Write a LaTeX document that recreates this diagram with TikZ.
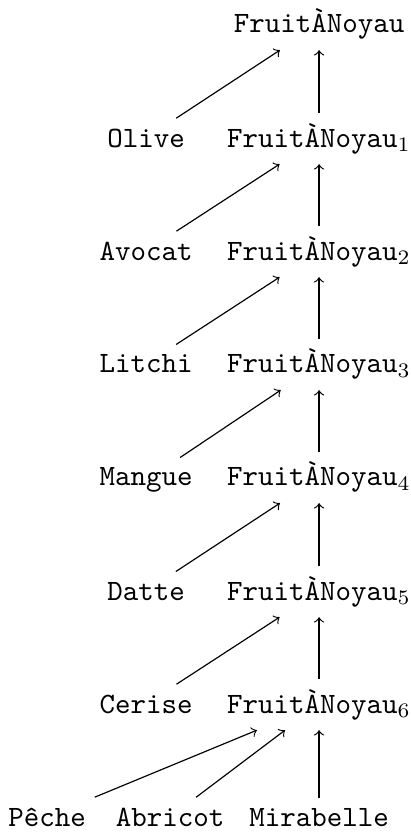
\documentclass[tikz,border=0pt]{standalone}
\usepackage{amsmath}
\usepackage{tikz}
\tikzset{fruit/.style={font=\ttfamily,anchor=base}}

\begin{document}
\begin{tikzpicture}[>=to]
    \useasboundingbox (0,0) rectangle (4.883,9.909);

    \node[fruit] (f0)at (3.80,9.516) {FruitÀNoyau};
    \node[fruit] (olive)at (1.74,8.158) {Olive};
    \node[fruit] (f1)at (3.80,8.158) {FruitÀNoyau$_1$};
    \node[fruit] (avocat)at (1.74,6.812) {Avocat};
    \node[fruit] (f2)at (3.80,6.812) {FruitÀNoyau$_2$};
    \node[fruit] (litchi)at (1.74,5.467) {Litchi};
    \node[fruit] (f3)at (3.80,5.467) {FruitÀNoyau$_3$};
    \node[fruit] (mangue)at (1.74,4.121) {Mangue};
    \node[fruit] (f4)at (3.80,4.121) {FruitÀNoyau$_4$};
    \node[fruit] (datte)at (1.74,2.763) {Datte};
    \node[fruit] (f5)at (3.80,2.763) {FruitÀNoyau$_5$};
    \node[fruit] (cerise)at (1.74,1.417) {Cerise};
    \node[fruit] (f6)at (3.80,1.417) {FruitÀNoyau$_6$};
    \node[fruit] (peche)at (0.56,0.071) {Pêche};
    \node[fruit] (abricot)at (2.025,0.071) {Abricot};
    \node[fruit] (mirabelle)at (3.80,0.071) {Mirabelle};

    \draw [->] (olive) to (f0);
    \draw [->] (f1) to (f0);
    \draw [->] (avocat) to (f1);
    \draw [->] (f2) to (f1);
    \draw [->] (litchi) to (f2);
    \draw [->] (f3) to (f2);
    \draw [->] (mangue) to (f3);
    \draw [->] (f4) to (f3);
    \draw [->] (datte) to (f4);
    \draw [->] (f5) to (f4);
    \draw [->] (cerise) to (f5);
    \draw [->] (f6) to (f5);
    \draw [->] (peche) to (f6);
    \draw [->] (abricot) to (f6);
    \draw [->] (mirabelle) to (f6);
\end{tikzpicture}
\end{document}
